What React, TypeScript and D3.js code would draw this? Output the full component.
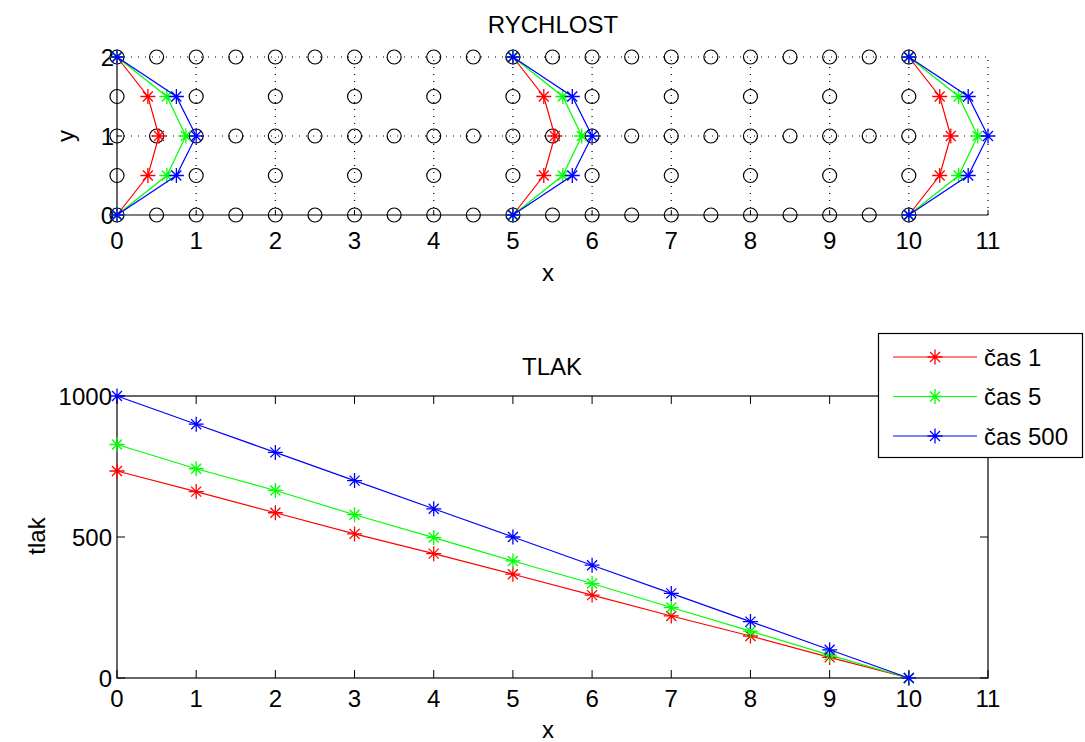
import React from 'react'
import * as d3 from 'd3'

// RYCHLOST – velocity profiles on staggered grid
const profileX0 = [0, 5, 10]
const profileY = [0, 0.5, 1, 1.5, 2]
const uCas1 = [0, 0.39, 0.53, 0.39, 0]
const uCas5 = [0, 0.63, 0.87, 0.63, 0]
const uCas500 = [0, 0.75, 1, 0.75, 0]

const nodeXFine = [0, 0.5, 1, 1.5, 2, 2.5, 3, 3.5, 4, 4.5, 5, 5.5, 6, 6.5, 7, 7.5, 8, 8.5, 9, 9.5, 10]
const nodeYFine = [0, 1, 2]
const nodeXCoarse = [0, 1, 2, 3, 4, 5, 6, 7, 8, 9, 10]
const nodeYCoarse = [0.5, 1.5]

// TLAK – pressure along x
const tlakX = [0, 1, 2, 3, 4, 5, 6, 7, 8, 9, 10]
const tlakCas1 = [734, 661, 586, 511, 441, 368, 294, 220, 149, 73, 0]
const tlakCas5 = [828, 742, 665, 579, 498, 415, 335, 250, 166, 81, 0]
const tlakCas500 = [1000, 900, 800, 700, 600, 500, 400, 300, 200, 100, 0]

const xTicks = [0, 1, 2, 3, 4, 5, 6, 7, 8, 9, 10, 11]
const yTicksTop = [0, 1, 2]
const yTicksBottom = [0, 500, 1000]

const seriesNames = ['čas 1', 'čas 5', 'čas 500']
const colors = ['#ff0000', '#00ff00', '#0000ff']

const font = 'Liberation Sans, Arial, sans-serif'
const fs = 24

const Star = ({x, y, color}: {x: number, y: number, color: string}) => {
  const s = 7.5
  const d = 5
  return (
    <path
      d={`M${x - s},${y}H${x + s}M${x},${y - s}V${y + s}M${x - d},${y - d}L${x + d},${y + d}M${x - d},${y + d}L${x + d},${y - d}`}
      stroke={color}
      strokeWidth={1.3}
      fill="none"
    />
  )
}

const App = () => {
  const left = 117
  const right = 988

  const xTop = d3.scaleLinear().domain([0, 11]).range([left, right])
  const yTop = d3.scaleLinear().domain([0, 2]).range([215, 57])

  const xBot = d3.scaleLinear().domain([0, 11]).range([left, right])
  const yBot = d3.scaleLinear().domain([0, 1000]).range([678, 396])

  const profiles = [uCas1, uCas5, uCas500]
  const tlak = [tlakCas1, tlakCas5, tlakCas500]

  const topLine = d3.line<[number, number]>().x(d => xTop(d[0])).y(d => yTop(d[1]))
  const botLine = d3.line<number>().x((d, i) => xBot(tlakX[i])).y(d => yBot(d))

  const nodes: [number, number][] = []
  nodeYFine.forEach(y => nodeXFine.forEach(x => nodes.push([x, y])))
  nodeYCoarse.forEach(y => nodeXCoarse.forEach(x => nodes.push([x, y])))

  const dotted = '1,6'

  return (
    <svg width={1085} height={742} style={{position: 'absolute', left: 0, top: 0, background: '#fff'}}
      fontFamily={font} fontSize={fs}>
      <rect width={1085} height={742} fill="#fff"/>

      {/* ---------- RYCHLOST ---------- */}
      <g>
        {/* grid */}
        {xTicks.slice(1).map(t => (
          <line key={'gv' + t} x1={xTop(t)} x2={xTop(t)} y1={yTop(0)} y2={yTop(2)}
            stroke="#000" strokeDasharray={dotted} strokeWidth={1.2}/>
        ))}
        {yTicksTop.slice(1).map(t => (
          <line key={'gh' + t} x1={xTop(0)} x2={xTop(11)} y1={yTop(t)} y2={yTop(t)}
            stroke="#000" strokeDasharray={dotted} strokeWidth={1.2}/>
        ))}
        {/* axes */}
        <line x1={xTop(0)} x2={xTop(11)} y1={yTop(0)} y2={yTop(0)} stroke="#000" strokeWidth={1.2}/>
        <line x1={xTop(0)} x2={xTop(0)} y1={yTop(0)} y2={yTop(2)} stroke="#000" strokeWidth={1.2}/>
        {xTicks.map(t => (
          <g key={'xt' + t}>
            <line x1={xTop(t)} x2={xTop(t)} y1={yTop(0)} y2={yTop(0) - 5} stroke="#000"/>
            <text x={xTop(t)} y={249} textAnchor="middle" fill="#000">{t}</text>
          </g>
        ))}
        {yTicksTop.map(t => (
          <g key={'yt' + t}>
            <line x1={xTop(0)} x2={xTop(0) + 5} y1={yTop(t)} y2={yTop(t)} stroke="#000"/>
            <text x={xTop(0) - 3} y={yTop(t) + 8.5} textAnchor="end" fill="#000">{t}</text>
          </g>
        ))}
        {/* grid nodes */}
        {nodes.map((n, i) => (
          <circle key={'n' + i} cx={xTop(n[0])} cy={yTop(n[1])} r={7} fill="none" stroke="#000" strokeWidth={1.2}/>
        ))}
        {/* profiles */}
        {profiles.map((u, si) => profileX0.map(x0 => {
          const pts: [number, number][] = u.map((v, i) => [x0 + v, profileY[i]])
          return (
            <g key={'p' + si + '-' + x0}>
              <path d={topLine(pts) || ''} stroke={colors[si]} fill="none" strokeWidth={1.2}/>
              {pts.map((p, i) => <Star key={i} x={xTop(p[0])} y={yTop(p[1])} color={colors[si]}/>)}
            </g>
          )
        }))}
        <text x={553} y={33} textAnchor="middle" fill="#000">RYCHLOST</text>
        <text x={548} y={281} textAnchor="middle" fill="#000">x</text>
        <text transform={`translate(74,${yTop(1)}) rotate(-90)`} textAnchor="middle" fill="#000">y</text>
      </g>

      {/* ---------- TLAK ---------- */}
      <g>
        <rect x={xBot(0)} y={yBot(1000)} width={xBot(11) - xBot(0)} height={yBot(0) - yBot(1000)}
          fill="none" stroke="#000" strokeWidth={1.2}/>
        {xTicks.map(t => (
          <g key={'bxt' + t}>
            <line x1={xBot(t)} x2={xBot(t)} y1={yBot(0)} y2={yBot(0) - 8} stroke="#000"/>
            <line x1={xBot(t)} x2={xBot(t)} y1={yBot(1000)} y2={yBot(1000) + 8} stroke="#000"/>
            <text x={xBot(t)} y={707} textAnchor="middle" fill="#000">{t}</text>
          </g>
        ))}
        {yTicksBottom.map(t => (
          <g key={'byt' + t}>
            <line x1={xBot(0)} x2={xBot(0) + 8} y1={yBot(t)} y2={yBot(t)} stroke="#000"/>
            <line x1={xBot(11)} x2={xBot(11) - 8} y1={yBot(t)} y2={yBot(t)} stroke="#000"/>
            <text x={xBot(0) - 5} y={yBot(t) + 8.5} textAnchor="end" fill="#000">{t}</text>
          </g>
        ))}
        {tlak.map((s, si) => (
          <g key={'t' + si}>
            <path d={botLine(s) || ''} stroke={colors[si]} fill="none" strokeWidth={1.2}/>
            {s.map((v, i) => <Star key={i} x={xBot(tlakX[i])} y={yBot(v)} color={colors[si]}/>)}
          </g>
        ))}
        <text x={552} y={375} textAnchor="middle" fill="#000">TLAK</text>
        <text x={548} y={738} textAnchor="middle" fill="#000">x</text>
        <text transform={`translate(45,536) rotate(-90)`} textAnchor="middle" fill="#000">tlak</text>

        {/* legend */}
        <rect x={878.5} y={333.5} width={204} height={124} fill="#fff" stroke="#000" strokeWidth={1.2}/>
        {seriesNames.map((name, i) => {
          const ly = 357 + i * 39.5
          return (
            <g key={'lg' + i}>
              <line x1={893} x2={977} y1={ly} y2={ly} stroke={colors[i]} strokeWidth={1.2}/>
              <Star x={935} y={ly} color={colors[i]}/>
              <text x={984} y={ly + 8.5} fill="#000">{name}</text>
            </g>
          )
        })}
      </g>
    </svg>
  )
}

export default App
